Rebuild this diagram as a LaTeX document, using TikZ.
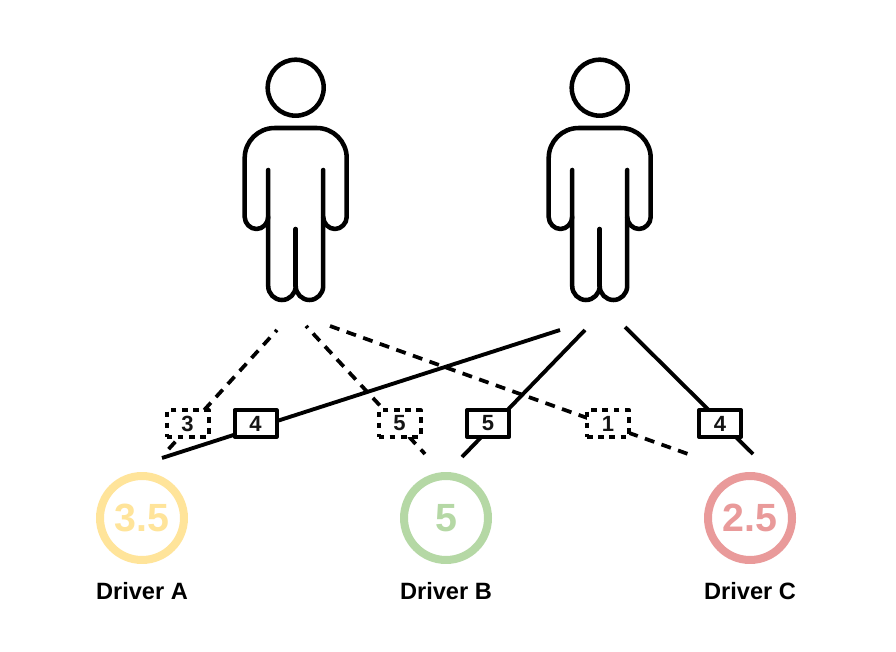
\documentclass[tikz,border=0pt]{standalone}
\usepackage{fontspec}
\setmainfont{Liberation Sans}
\definecolor{ringyellow}{RGB}{255,228,154}
\definecolor{ringgreen}{RGB}{181,216,165}
\definecolor{ringred}{RGB}{233,154,154}
\begin{document}
\begin{tikzpicture}[x=0.75pt,y=-0.75pt,line join=round,
  personline/.style={line width=3.4pt,line cap=round,black},
  linksolid/.style={line width=2.9pt,black},
  linkdash/.style={line width=2.8pt,black,dash pattern=on 7.5pt off 5.7pt},
  scorebox/.style={draw=black,fill=white,line width=3pt,minimum width=31.5pt,minimum height=20pt,inner sep=0pt,font=\fontsize{16.5}{18}\selectfont\bfseries,text=black!92},
  dashbox/.style={scorebox,dash pattern=on 4.2pt off 4.2pt},
  ring/.style={circle,line width=6pt,minimum size=63pt,inner sep=0pt,font=\fontsize{29.5}{32}\selectfont\bfseries},
  drivername/.style={font=\fontsize{17.7}{20}\selectfont\bfseries,text=black,inner sep=0pt},
  pics/person/.style={code={
    \node[draw=black,line width=3.4pt,circle,minimum size=42pt,inner sep=0pt] (#1head) at (0,87.7) {};
    \draw[personline] (-27.5,170) -- (-27.5,286)
      .. controls (-27.5,293.7) and (-21.3,300) .. (-13.75,300)
      .. controls (-6.2,300) and (0,293.7) .. (0,286)
      .. controls (0,293.7) and (6.2,300) .. (13.75,300)
      .. controls (21.3,300) and (27.5,293.7) .. (27.5,286)
      -- (27.5,170);
    \draw[personline] (0,229) -- (0,286);
    \draw[personline]
      (-27.5,217) .. controls (-27.5,223.35) and (-33,229) .. (-39.25,229)
      .. controls (-45.5,229) and (-51,223.35) .. (-51,217)
      -- (-51,158) .. controls (-51,141.4) and (-37.6,128) .. (-21,128)
      -- (21,128) .. controls (37.6,128) and (51,141.4) .. (51,158)
      -- (51,217) .. controls (51,223.35) and (45.5,229) .. (39.25,229)
      .. controls (33,229) and (27.5,223.35) .. (27.5,217);
  }}]
\useasboundingbox (0,0) rectangle (896,652);
\fill[white] (0,0) rectangle (896,652);

\pic at (295.7,0) {person=pa};
\pic at (599.7,0) {person=pb};

\coordinate (a1) at (277,330);
\coordinate (a2) at (166,452);
\coordinate (a3) at (306,326);
\coordinate (a4) at (425,454);
\coordinate (a5) at (330,326);
\coordinate (a6) at (688,454);
\coordinate (b1) at (560,330);
\coordinate (b2) at (162,458);
\coordinate (b3) at (585,330);
\coordinate (b4) at (462,457);
\coordinate (b5) at (625,327);
\coordinate (b6) at (753,454);

\draw[linkdash,dash phase=5.5pt] (a1) -- (a2);
\draw[linkdash,dash phase=5.5pt] (a3) -- (a4);
\draw[linkdash] (a5) -- (a6);
\draw[linksolid] (b1) -- (b2);
\draw[linksolid] (b3) -- (b4);
\draw[linksolid] (b5) -- (b6);

\node[dashbox] (s3) at (187.5,423.5) {3};
\node[scorebox] (s4a) at (255.5,423.5) {4};
\node[dashbox] (s5a) at (399.5,423.5) {5};
\node[scorebox] (s5b) at (488,423.5) {5};
\node[dashbox] (s1) at (608,423.5) {1};
\node[scorebox] (s4b) at (720,423.5) {4};

\node[ring,draw=ringyellow,text=ringyellow] (da) at (142,518) {3.5};
\node[ring,draw=ringgreen,text=ringgreen] (db) at (446,518) {5};
\node[ring,draw=ringred,text=ringred] (dc) at (750,518) {2.5};

\node[drivername] (la) at (142,591) {Driver A};
\node[drivername] (lb) at (446,591) {Driver B};
\node[drivername] (lc) at (750,591) {Driver C};
\end{tikzpicture}
\end{document}
